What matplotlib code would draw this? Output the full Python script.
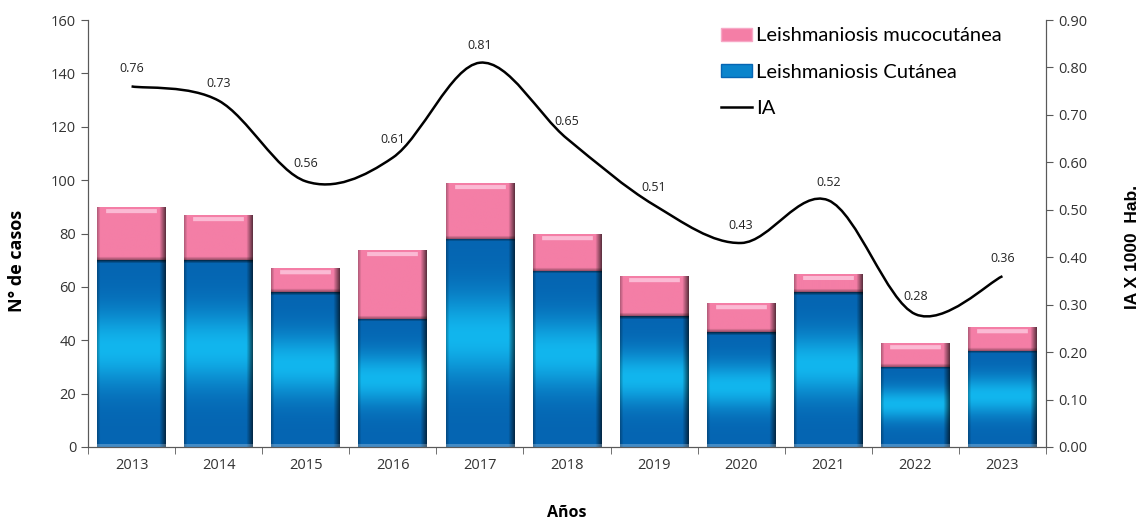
import matplotlib.pyplot as plt
import numpy as np
from matplotlib.patches import Patch, Rectangle, PathPatch
from matplotlib.path import Path
from matplotlib.lines import Line2D
from matplotlib.colors import to_rgb

anios = ['2013', '2014', '2015', '2016', '2017', '2018', '2019', '2020', '2021', '2022', '2023']
cutanea = [70, 70, 58, 48, 78, 66, 49, 43, 58, 30, 36]
mucocutanea = [20, 17, 9, 26, 21, 14, 15, 11, 7, 9, 9]
ia = [0.76, 0.73, 0.56, 0.61, 0.81, 0.65, 0.51, 0.43, 0.52, 0.28, 0.36]

plt.rcParams['font.family'] = ['Open Sans', 'DejaVu Sans']

fig = plt.figure(figsize=(11.41, 5.22), dpi=100)
ax = fig.add_axes([88/1141, 1-447/522, 958/1141, 427/522])
ax2 = ax.twinx()

x = np.arange(len(anios))
ancho = 0.79
px_por_caso = 427 / 160
w_px = int(958 / 11 * ancho)


def relleno(tipo, h):
    # imagen con degradado y bisel, en pixeles reales de la barra
    h = max(int(round(h)), 4)
    w = w_px
    fila = np.arange(h)[:, None] * np.ones((1, w))          # 0 = arriba
    col = np.ones((h, 1)) * np.arange(w)[None, :]
    yy = 1 - fila / (h - 1)                                  # 0 = abajo
    if tipo == 'azul':
        a = np.array(to_rgb('#0565b2'))
        b = np.array(to_rgb('#12b6ee'))
        f = np.exp(-((yy - 0.53) / 0.2) ** 2)
        img = a * (1 - f[..., None]) + b * f[..., None]
    else:
        img = np.ones((h, w, 3)) * np.array(to_rgb('#f47ea6'))
        franja = ((fila >= 3) & (fila <= 6) & (col > 8) & (col < w - 9)).astype(float)
        img = img * (1 - franja[..., None] * 0.65) + np.array([1.0, 0.86, 0.93]) * franja[..., None] * 0.65
    # sombra lateral derecha e izquierda
    sombra = np.clip((col - (w - 7)) / 6, 0, 1) * 0.6 + np.clip((3 - col) / 3, 0, 1) * 0.25
    img = img * (1 - sombra[..., None])
    if tipo == 'azul':
        arriba = np.clip((3 - fila) / 3, 0, 1) * 0.55
        img = img * (1 - arriba[..., None])
        abajo = (fila >= h - 3).astype(float) * 0.25
        img = img + (1 - img) * abajo[..., None]
    else:
        abajo = np.clip((fila - (h - 4)) / 3, 0, 1) * 0.35
        img = img * (1 - abajo[..., None])
    return np.clip(img, 0, 1)


for xi, c, m in zip(x, cutanea, mucocutanea):
    for y0, alto, tipo in [(0, c, 'azul'), (c, m, 'rosa')]:
        r = Rectangle((xi - ancho/2, y0), ancho, alto, facecolor='none', edgecolor='none', zorder=2)
        ax.add_patch(r)
        im = ax.imshow(relleno(tipo, alto * px_por_caso),
                       extent=(xi - ancho/2, xi + ancho/2, y0, y0 + alto),
                       aspect='auto', zorder=2, interpolation='bilinear')
        im.set_clip_path(r)

ax.set_xlim(-0.5, len(anios) - 0.5)
ax.set_ylim(0, 160)
ax.set_yticks(np.arange(0, 161, 20))
ax.set_xticks(x)
ax.set_xticklabels(anios)
ax.set_xticks(np.arange(-0.5, len(anios)), minor=True)
ax.tick_params(axis='x', which='major', length=0, pad=8)
ax.tick_params(axis='x', which='minor', length=5, color='#595959')
ax.tick_params(axis='y', length=5, color='#595959')
ax.tick_params(labelsize=10.5, labelcolor='#333333')

# Linea suavizada de IA (curva tipo Excel)
pts = np.column_stack([x, ia])
verts = [tuple(pts[0])]
codes = [Path.MOVETO]
t = 1 / 6
for i in range(len(pts) - 1):
    p0 = pts[i - 1] if i > 0 else pts[i]
    p1, p2 = pts[i], pts[i + 1]
    p3 = pts[i + 2] if i + 2 < len(pts) else pts[i + 1]
    c1 = p1 + (p2 - p0) * t
    c2 = p2 - (p3 - p1) * t
    verts += [tuple(c1), tuple(c2), tuple(p2)]
    codes += [Path.CURVE4] * 3
ax2.add_patch(PathPatch(Path(verts, codes), facecolor='none', edgecolor='black', lw=1.8, zorder=3))
for xi, v in zip(x, ia):
    ax2.annotate(f'{v:.2f}', (xi, v), xytext=(0, 8), textcoords='offset points',
                 ha='center', va='bottom', fontsize=9, color='#222222')

ax2.set_ylim(0, 0.9)
ax2.set_yticks(np.arange(0, 0.91, 0.1))
ax2.set_yticklabels([f'{v:.2f}' for v in np.arange(0, 0.91, 0.1)])
ax2.tick_params(axis='y', length=5, color='#595959', labelsize=10.5, labelcolor='#333333')

for a in (ax, ax2):
    a.spines['top'].set_visible(False)
    for s in ('left', 'right', 'bottom'):
        a.spines[s].set_color('#595959')

ax.set_ylabel('N° de casos', fontsize=13, fontweight='bold')
ax.yaxis.set_label_coords(-0.065, 0.436)
ax2.set_ylabel('IA X 1000  Hab.', fontsize=12.5, fontweight='bold',
               fontfamily=['Liberation Sans', 'DejaVu Sans'])
ax2.yaxis.set_label_coords(1.082, 0.468)
ax.set_xlabel('Años', fontsize=11.5, fontweight='bold', labelpad=23)

handles = [Patch(facecolor='#f47ea6', edgecolor='#f7a8c6'),
           Patch(facecolor='#0a84cc', edgecolor='#0565b3'),
           Line2D([], [], color='black', lw=1.8)]
labels = ['Leishmaniosis mucocutánea', 'Leishmaniosis Cutánea', 'IA']
ax2.legend(handles, labels, loc='upper left', bbox_to_anchor=(0.642, 1.025), frameon=False,
           prop={'family': ['Lato', 'DejaVu Sans'], 'size': 14.5},
           handlelength=1.55, handleheight=0.6, handletextpad=0.2, labelspacing=0.95)

fig.savefig('out.png', dpi=100)
